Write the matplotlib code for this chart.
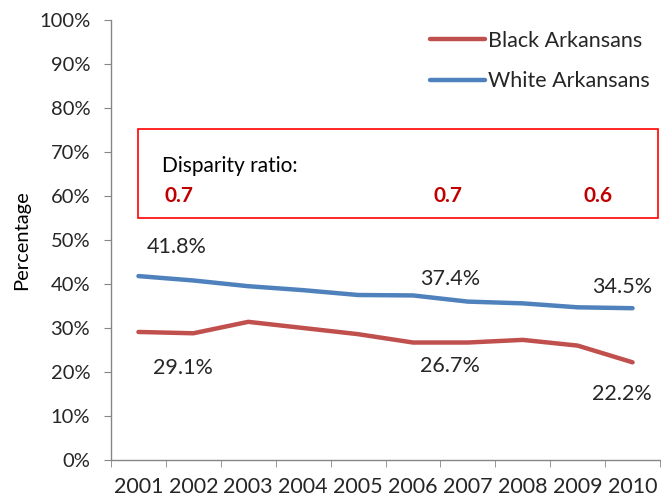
import matplotlib
matplotlib.use("Agg")
import matplotlib.pyplot as plt
from matplotlib.patches import Rectangle

years = ["2001", "2002", "2003", "2004", "2005", "2006", "2007", "2008", "2009", "2010"]
black = [29.1, 28.8, 31.4, 30.0, 28.6, 26.7, 26.7, 27.3, 26.0, 22.2]
white = [41.8, 40.8, 39.5, 38.6, 37.5, 37.4, 36.0, 35.6, 34.7, 34.5]
yticks = [0, 10, 20, 30, 40, 50, 60, 70, 80, 90, 100]
ratio_title = "Disparity ratio:"
ratios = ["0.7", "0.7", "0.6"]
ratio_x = [0.48, 5.37, 8.1]

plt.rcParams['font.family'] = ['Lato', 'DejaVu Sans']

fig = plt.figure(figsize=(6.61, 5.0), dpi=100)
ax = fig.add_axes([111/661, 40/500, 549/661, 440/500])

x = list(range(len(years)))
red = '#C0504D'
blue = '#4F81BD'
ax.plot(x, black, color=red, lw=3.2, solid_capstyle='round', label='Black Arkansans')
ax.plot(x, white, color=blue, lw=3.2, solid_capstyle='round', label='White Arkansans')

ax.set_xlim(-0.5, len(years) - 0.5)
ax.set_ylim(0, 100)
ax.set_yticks(yticks)
ax.set_yticklabels([f"{v}%" for v in yticks], fontsize=14.5, color='#262626')
ax.set_xticks(x)
ax.set_xticklabels(years, fontsize=15.5, color='#262626')
ax.set_xticks([i - 0.5 for i in range(len(years) + 1)], minor=True)
ax.tick_params(axis='x', which='major', length=0, pad=12)
ax.tick_params(axis='x', which='minor', length=5, color='#868686', direction='out')
ax.tick_params(axis='y', length=5, color='#868686', direction='out', pad=10)
for s in ['top', 'right']:
    ax.spines[s].set_visible(False)
for s in ['left', 'bottom']:
    ax.spines[s].set_color('#868686')
    ax.spines[s].set_linewidth(1.0)
ax.set_ylabel("Percentage", fontsize=14.5, color='#000000', labelpad=6)

# data labels
lab_fs = 15.5
ax.text(0.69, 48.4, f"{white[0]}%", ha='center', va='center', fontsize=lab_fs, color='#262626')
ax.text(5.67, 41.2, f"{white[5]}%", ha='center', va='center', fontsize=lab_fs, color='#262626')
ax.text(8.81, 39.3, f"{white[9]}%", ha='center', va='center', fontsize=lab_fs, color='#262626')
ax.text(0.81, 20.8, f"{black[0]}%", ha='center', va='center', fontsize=lab_fs, color='#262626')
ax.text(5.67, 21.4, f"{black[5]}%", ha='center', va='center', fontsize=lab_fs, color='#262626')
ax.text(8.81, 15.0, f"{black[9]}%", ha='center', va='center', fontsize=lab_fs, color='#262626')

# disparity box
box = Rectangle((0.0, 55.0), 9.47, 20.3, fill=False, edgecolor='#FF0000', lw=1.2, clip_on=False)
ax.add_patch(box)
ax.text(0.43, 66.8, ratio_title, ha='left', va='center', fontsize=15, color='#000000')
for rx, r in zip(ratio_x, ratios):
    ax.text(rx, 60.0, r, ha='left', va='center', fontsize=15, color='#C00000', fontweight='bold')

leg = ax.legend(loc='upper left', bbox_to_anchor=(0.581, 0.975), frameon=False, fontsize=15.5,
                handlelength=2.56, handletextpad=0.14, labelspacing=0.95, borderpad=0, borderaxespad=0)
for t in leg.get_texts():
    t.set_color('#262626')

fig.savefig("out.png", dpi=100)
